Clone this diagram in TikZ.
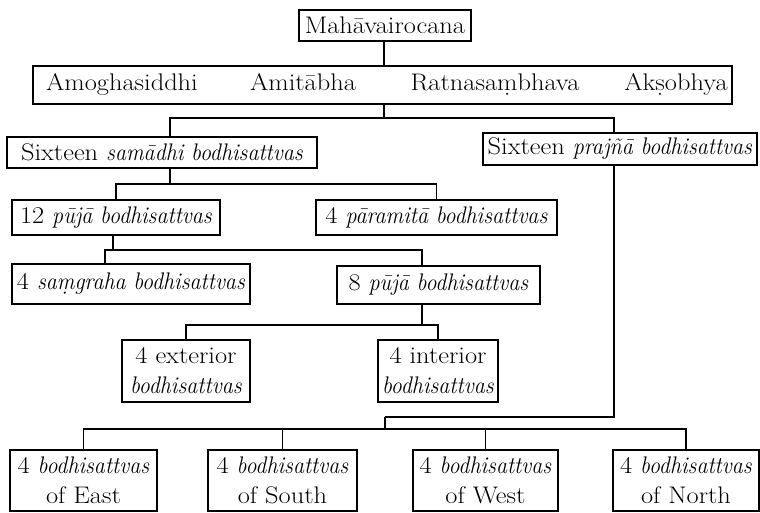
\documentclass[tikz,border=0pt]{standalone}
\usepackage{fontspec}
\setmainfont{Latin Modern Roman}[
  UprightFeatures={FakeStretch=1.1},
  ItalicFeatures={FakeStretch=0.92}]
\begin{document}
\begin{tikzpicture}[x=1pt,y=-1pt,
  box/.style={draw,line width=1.4pt,inner sep=1pt,align=center,
    font=\fontsize{24}{30}\selectfont},
  txt/.style={inner sep=0pt,anchor=base,font=\fontsize{24}{30}\selectfont},
  conn/.style={line width=1.4pt}]
\useasboundingbox (0,0) rectangle (760,512);
% nodes
\node[box,minimum width=172,minimum height=31] (mv) at (385,25.5) {Mahāvairocana};
\node[box,minimum width=699,minimum height=38] (bud) at (382.5,85) {};
\node[txt] (t1) at (122,90) {Amoghasiddhi};
\node[txt] (t2) at (303,90) {Amitābha};
\node[txt] (t3) at (495,90) {Ratnasaṃbhava};
\node[txt] (t4) at (676,90) {Akṣobhya};
\node[box,minimum width=310,minimum height=31] (sam) at (162,152.5) {Sixteen \textit{samādhi bodhisattvas}};
\node[box,minimum width=274,minimum height=32] (praj) at (620,149) {Sixteen \textit{prajñā bodhisattvas}};
\node[box,minimum width=208,minimum height=35] (p12) at (116,217.5) {12 \textit{pūjā bodhisattvas}};
\node[box,minimum width=241,minimum height=35] (par) at (436.5,217.5) {4 \textit{pāramitā bodhisattvas}};
\node[box,minimum width=238,minimum height=40] (sg) at (131,284) {4 \textit{saṃgraha bodhisattvas}};
\node[box,minimum width=203,minimum height=38] (p8) at (438.5,285) {8 \textit{pūjā bodhisattvas}};
\node[box,minimum width=128,minimum height=62] (ext) at (186,371) {4 exterior\\\textit{bodhisattvas}};
\node[box,minimum width=120,minimum height=62] (int) at (438,371) {4 interior\\\textit{bodhisattvas}};
\node[box,minimum width=147,minimum height=61] (east) at (83.5,480.5) {4 \textit{bodhisattvas}\\of East};
\node[box,minimum width=149,minimum height=61] (south) at (282.5,480.5) {4 \textit{bodhisattvas}\\of South};
\node[box,minimum width=145,minimum height=61] (west) at (485.5,480.5) {4 \textit{bodhisattvas}\\of West};
\node[box,minimum width=146,minimum height=61] (north) at (686,480.5) {4 \textit{bodhisattvas}\\of North};
% junction coordinates
\coordinate (h1) at (384,118);
\coordinate (v1a) at (170,0);
\coordinate (v1b) at (614,0);
\coordinate (h2) at (170,184);
\coordinate (h3) at (113,250);
\coordinate (v3a) at (105,0);
\coordinate (v3b) at (422,0);
\coordinate (h4) at (422,325);
\coordinate (h5) at (385,417);
\coordinate (h6) at (385,429);
% connectors
\draw[conn] (mv.south -| h1) -- (bud.north -| h1);
\draw[conn] (bud.south -| h1) -- (h1);
\draw[conn] (v1a |- sam.north) |- (h1);
\draw[conn] (v1b |- praj.north) |- (h1);
\draw[conn] (h2 |- sam.south) -- (h2);
\draw[conn] (p12.north) |- (h2);
\draw[conn] (par.north) |- (h2);
\draw[conn] (h3 |- p12.south) -- (h3);
\draw[conn] (v3a |- sg.north) |- (h3);
\draw[conn] (v3b |- p8.north) |- (h3);
\draw[conn] (h4 |- p8.south) -- (h4);
\draw[conn] (ext.north) |- (h4);
\draw[conn] (int.north) |- (h4);
\draw[conn] (v1b |- praj.south) |- (h5);
\draw[conn] (h5) -- (h6);
\draw[conn] (east.north) |- (h6);
\draw[conn] (south.north) |- (h6);
\draw[conn] (west.north) |- (h6);
\draw[conn] (north.north) |- (h6);
\end{tikzpicture}
\end{document}
